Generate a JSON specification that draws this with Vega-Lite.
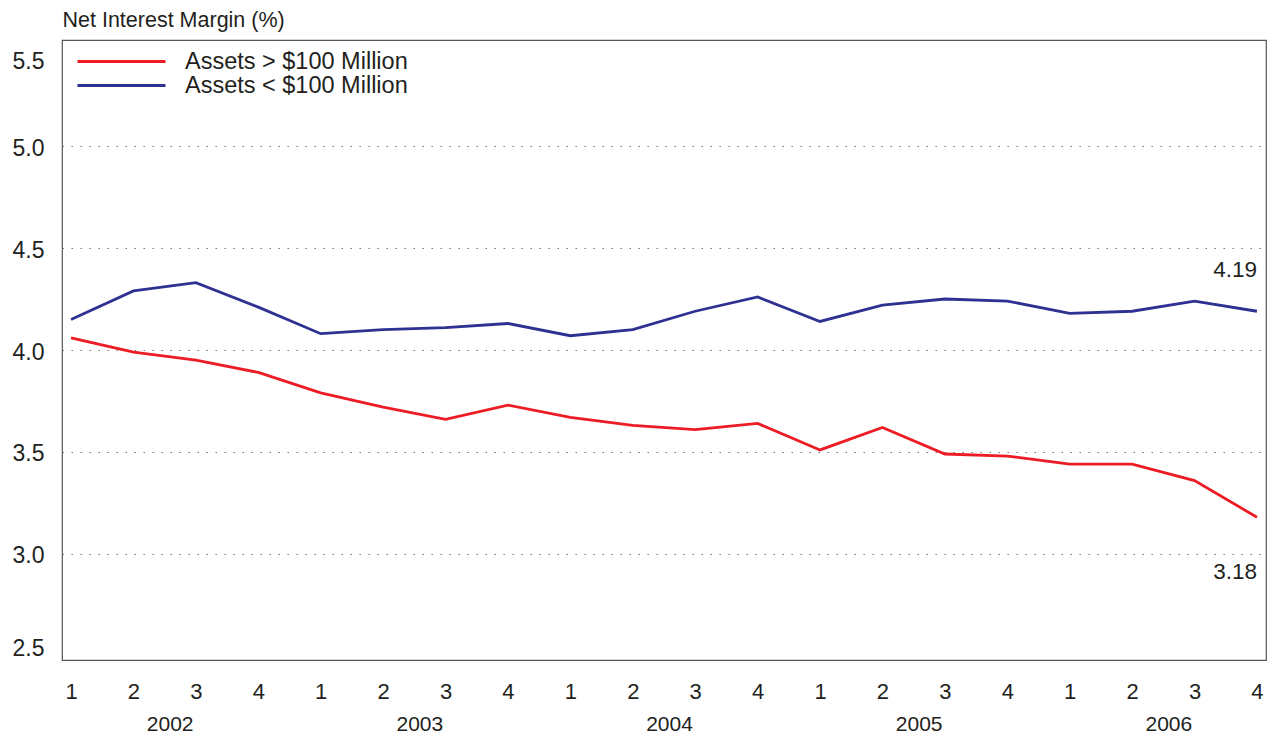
{
  "$schema": "https://vega.github.io/schema/vega-lite/v6.json",
  "autosize": "none",
  "width": 1204,
  "height": 620,
  "padding": {"left": 62, "top": 40, "right": 11, "bottom": 74},
  "background": "white",
  "config": {
    "font": "Liberation Sans",
    "view": {"stroke": "#555555", "strokeWidth": 1.2},
    "axis": {"labelColor": "#231f20", "titleColor": "#231f20", "labelFont": "Liberation Sans", "titleFont": "Liberation Sans"}
  },
  "datasets": {
    "nim": [
      {"idx": 0, "series": "Assets > $100 Million", "value": 4.06},
      {"idx": 1, "series": "Assets > $100 Million", "value": 3.99},
      {"idx": 2, "series": "Assets > $100 Million", "value": 3.95},
      {"idx": 3, "series": "Assets > $100 Million", "value": 3.89},
      {"idx": 4, "series": "Assets > $100 Million", "value": 3.79},
      {"idx": 5, "series": "Assets > $100 Million", "value": 3.72},
      {"idx": 6, "series": "Assets > $100 Million", "value": 3.66},
      {"idx": 7, "series": "Assets > $100 Million", "value": 3.73},
      {"idx": 8, "series": "Assets > $100 Million", "value": 3.67},
      {"idx": 9, "series": "Assets > $100 Million", "value": 3.63},
      {"idx": 10, "series": "Assets > $100 Million", "value": 3.61},
      {"idx": 11, "series": "Assets > $100 Million", "value": 3.64},
      {"idx": 12, "series": "Assets > $100 Million", "value": 3.51},
      {"idx": 13, "series": "Assets > $100 Million", "value": 3.62},
      {"idx": 14, "series": "Assets > $100 Million", "value": 3.49},
      {"idx": 15, "series": "Assets > $100 Million", "value": 3.48},
      {"idx": 16, "series": "Assets > $100 Million", "value": 3.44},
      {"idx": 17, "series": "Assets > $100 Million", "value": 3.44},
      {"idx": 18, "series": "Assets > $100 Million", "value": 3.36},
      {"idx": 19, "series": "Assets > $100 Million", "value": 3.18},
      {"idx": 0, "series": "Assets < $100 Million", "value": 4.15},
      {"idx": 1, "series": "Assets < $100 Million", "value": 4.29},
      {"idx": 2, "series": "Assets < $100 Million", "value": 4.33},
      {"idx": 3, "series": "Assets < $100 Million", "value": 4.21},
      {"idx": 4, "series": "Assets < $100 Million", "value": 4.08},
      {"idx": 5, "series": "Assets < $100 Million", "value": 4.10},
      {"idx": 6, "series": "Assets < $100 Million", "value": 4.11},
      {"idx": 7, "series": "Assets < $100 Million", "value": 4.13},
      {"idx": 8, "series": "Assets < $100 Million", "value": 4.07},
      {"idx": 9, "series": "Assets < $100 Million", "value": 4.10},
      {"idx": 10, "series": "Assets < $100 Million", "value": 4.19},
      {"idx": 11, "series": "Assets < $100 Million", "value": 4.26},
      {"idx": 12, "series": "Assets < $100 Million", "value": 4.14},
      {"idx": 13, "series": "Assets < $100 Million", "value": 4.22},
      {"idx": 14, "series": "Assets < $100 Million", "value": 4.25},
      {"idx": 15, "series": "Assets < $100 Million", "value": 4.24},
      {"idx": 16, "series": "Assets < $100 Million", "value": 4.18},
      {"idx": 17, "series": "Assets < $100 Million", "value": 4.19},
      {"idx": 18, "series": "Assets < $100 Million", "value": 4.24},
      {"idx": 19, "series": "Assets < $100 Million", "value": 4.19}
    ],
    "ends": [
      {"idx": 19, "series": "Assets < $100 Million", "value": 4.19, "label": "4.19"},
      {"idx": 19, "series": "Assets > $100 Million", "value": 3.18, "label": "3.18"}
    ]
  },
  "resolve": {"axis": {"x": "independent"}},
  "layer": [
    {
      "data": {"name": "nim"},
      "mark": {"type": "line", "strokeWidth": 2.8},
      "encoding": {
        "x": {
          "field": "idx", "type": "quantitative",
          "scale": {"domain": [-0.145, 19.145], "nice": false, "zero": false},
          "axis": {
            "orient": "bottom",
            "values": [0,1,2,3,4,5,6,7,8,9,10,11,12,13,14,15,16,17,18,19],
            "labelExpr": "'' + (datum.value % 4 + 1)",
            "title": null, "ticks": false, "domain": false, "grid": false,
            "labelFontSize": 22, "labelPadding": 21, "labelFlush": false, "labelOverlap": false
          }
        },
        "y": {
          "field": "value", "type": "quantitative",
          "scale": {"domain": [2.48, 5.52], "nice": false, "zero": false},
          "axis": {
            "values": [2.5, 3, 3.5, 4, 4.5, 5, 5.5],
            "format": ".1f",
            "title": "Net Interest Margin (%)",
            "titleAngle": 0, "titleAlign": "left", "titleBaseline": "middle",
            "titleX": 0, "titleY": -20, "titleFontSize": 21.5, "titleFontWeight": "normal",
            "ticks": false, "domain": false, "grid": true,
            "gridDash": [1.5, 7.5], "gridColor": "#777777", "gridWidth": 1.2,
            "gridOpacity": {"condition": {"test": "datum.value == 2.5 || datum.value == 5.5", "value": 0}, "value": 1},
            "labelOffset": {"condition": [
              {"test": "datum.value == 5.5", "value": 17},
              {"test": "datum.value == 2.5", "value": -7}
            ], "value": 2},
            "labelFontSize": 23, "labelPadding": 18, "labelOverlap": false, "labelFlush": false
          }
        },
        "color": {
          "field": "series", "type": "nominal",
          "scale": {"domain": ["Assets > $100 Million", "Assets < $100 Million"], "range": ["#ED1C24", "#2E3192"]},
          "legend": {
            "title": null, "orient": "none", "legendX": 14, "legendY": 9, "padding": 0,
            "symbolType": "M-1,0H7", "symbolSize": 484, "symbolStrokeWidth": 3,
            "labelFontSize": 23.5, "labelColor": "#231f20", "labelOffset": 84, "labelLimit": 500, "rowPadding": 0
          }
        }
      }
    },
    {
      "data": {"name": "ends"},
      "mark": {"type": "text", "align": "right", "baseline": "middle", "fontSize": 22.5, "color": "#231f20", "dy": -41},
      "transform": [{"filter": "datum.label == '4.19'"}],
      "encoding": {
        "x": {
          "field": "idx", "type": "quantitative",
          "axis": {
            "orient": "bottom",
            "values": [1.5, 5.5, 9.5, 13.5, 17.5],
            "labelExpr": "'' + (2002 + floor(datum.value / 4))",
            "title": null, "ticks": false, "domain": false, "grid": false,
            "labelFontSize": 21, "labelPadding": 53, "labelOffset": 5, "labelFlush": false, "labelOverlap": false
          }
        },
        "y": {"field": "value", "type": "quantitative"},
        "text": {"field": "label"}
      }
    },
    {
      "data": {"name": "ends"},
      "mark": {"type": "text", "align": "right", "baseline": "middle", "fontSize": 22.5, "color": "#231f20", "dy": 55},
      "transform": [{"filter": "datum.label == '3.18'"}],
      "encoding": {
        "x": {"field": "idx", "type": "quantitative", "axis": null},
        "y": {"field": "value", "type": "quantitative"},
        "text": {"field": "label"}
      }
    }
  ]
}
